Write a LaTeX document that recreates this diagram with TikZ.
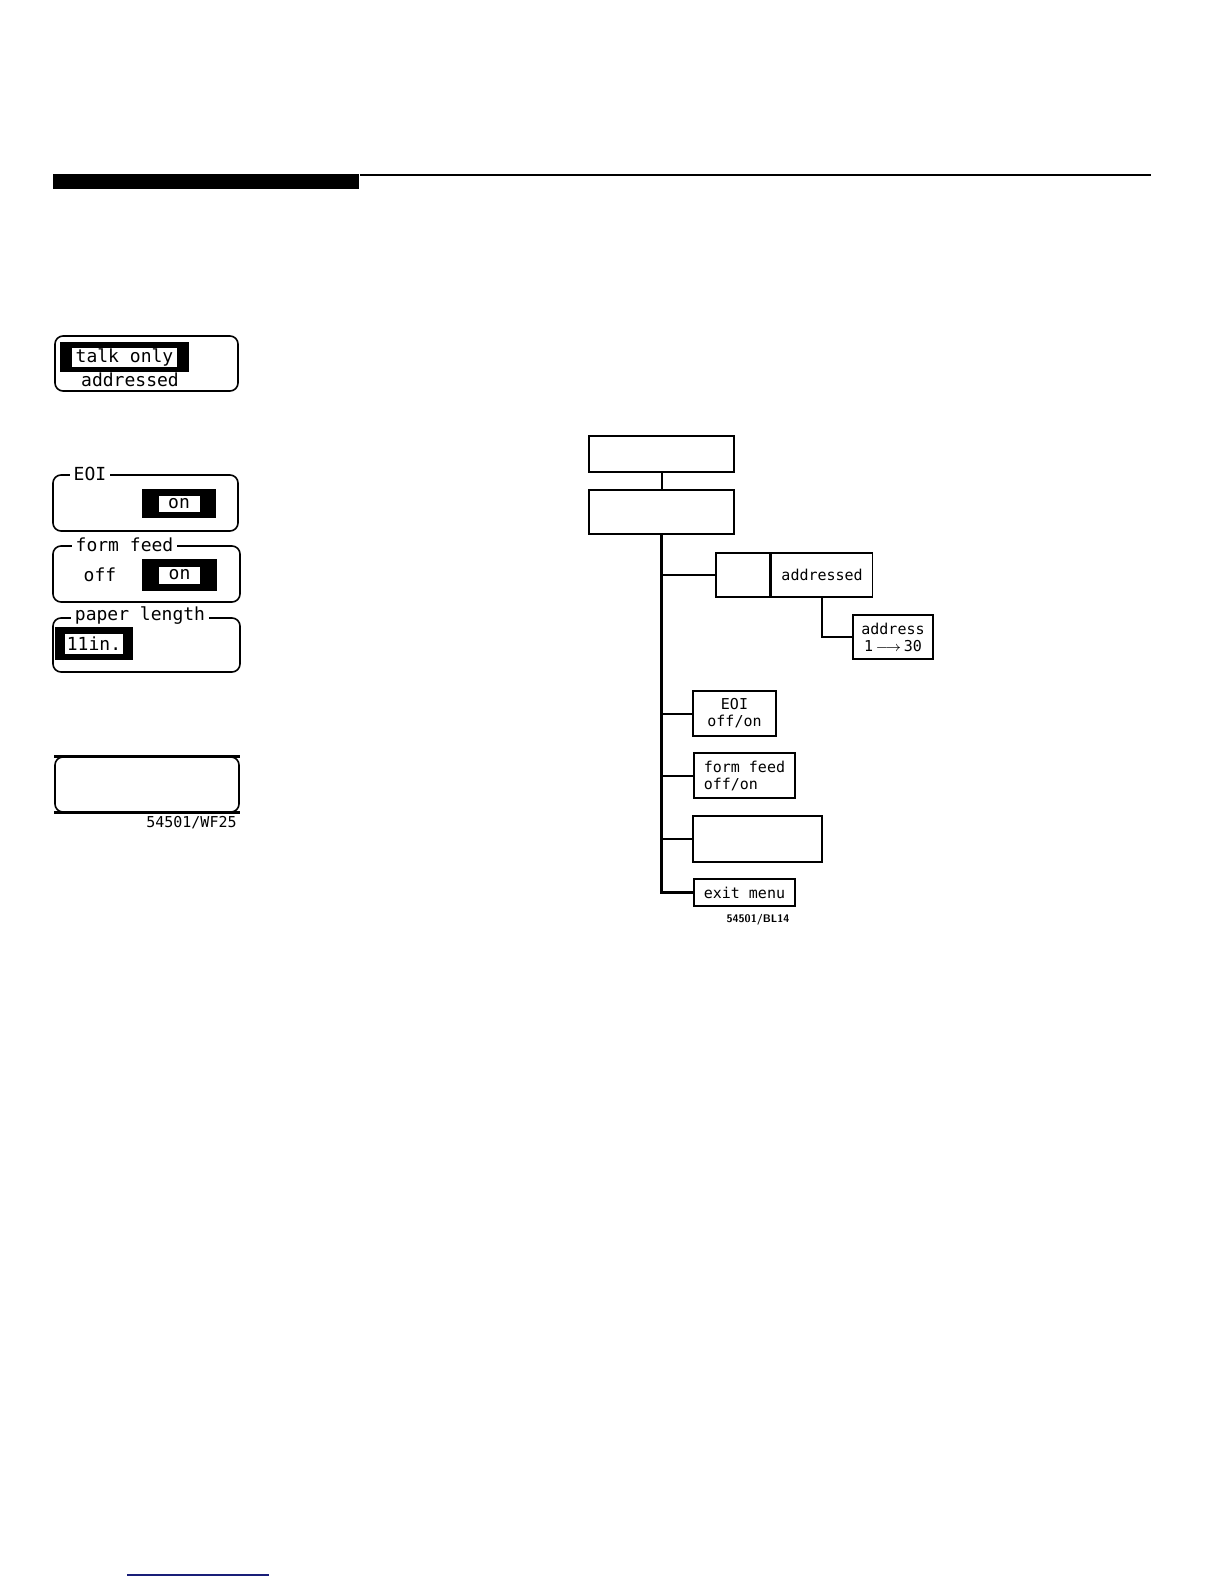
\documentclass[tikz,border=0pt]{standalone}
\usepackage{fontspec}
\setmonofont{DejaVu Sans Mono}
\usetikzlibrary{positioning}
\definecolor{footblue}{RGB}{25,30,120}
\tikzset{
  screen/.style={draw, rounded corners=4pt, line width=0.8pt, inner sep=0pt},
  hlbox/.style={fill=black, inner sep=0pt},
  hltext/.style={fill=white, inner sep=0pt, font=\ttfamily\fontsize{9}{10}\selectfont},
  scrlabel/.style={fill=white, inner sep=2pt, font=\ttfamily\fontsize{9}{10}\selectfont},
  scrtext/.style={inner sep=0pt, font=\ttfamily\fontsize{9}{10}\selectfont},
  menubox/.style={draw, line width=0.8pt, inner sep=0pt, align=center, font=\ttfamily\fontsize{7.5}{8.5}\selectfont},
  leftbox/.style={menubox, align=left, inner xsep=5pt, anchor=west},
  branch/.style={line width=1pt},
  trunk/.style={line width=1.1pt}
}

\begin{document}
\begin{tikzpicture}[x=0.5pt, y=-0.5pt]
  \useasboundingbox (0,0) rectangle (1224,1584);
  \fill[white] (0,0) rectangle (1224,1584);

  % heading rule
  \node[fill=black, inner sep=0pt, minimum width=153pt, minimum height=7.5pt, anchor=north west] (rulebar) at (53,174) {};
  \coordinate (ruleend) at (1151,175.2);
  \draw[line width=1.2pt] (rulebar.north east |- ruleend) -- (ruleend);

  % display screens
  \node[screen, minimum width=91.5pt, minimum height=27.5pt] (talkscr) at (146.5,363.5) {};
  \node[hlbox, minimum width=64.5pt, minimum height=15pt] (talkhl) at (124.5,357) {};
  \node[hltext, minimum width=52.5pt, minimum height=9.5pt] (talkon) at (talkhl.center) {talk only};
  \node[scrtext] (talkaddr) at (130,380) {addressed};

  \node[screen, minimum width=92.5pt, minimum height=28pt] (eoiscr) at (145.5,503) {};
  \node[scrlabel] (eoilbl) at (90,474) {EOI};
  \node[hlbox, minimum width=37pt, minimum height=14.5pt] (eoihl) at (179,503.5) {};
  \node[hltext, minimum width=20.5pt, minimum height=8pt] (eoion) at (eoihl.center) {on};

  \node[screen, minimum width=93.5pt, minimum height=28pt] (ffscr) at (146.5,574) {};
  \node[scrlabel] (fflbl) at (124.5,545) {form feed};
  \node[scrtext] (ffoff) at (100,575) {off};
  \node[hlbox, minimum width=37.5pt, minimum height=16pt] (ffhl) at (179.5,575) {};
  \node[hltext, minimum width=20.5pt, minimum height=8.5pt] (ffon) at (ffhl.center) {on};

  \node[screen, minimum width=93.5pt, minimum height=27pt] (paperscr) at (146.5,645) {};
  \node[scrlabel] (paperlbl) at (140,616) {paper length};
  \node[hlbox, minimum width=39pt, minimum height=16.5pt] (paperhl) at (94,643.5) {};
  \node[hltext, minimum width=29pt, minimum height=10pt] (paperin) at (paperhl.center) {11in.};

  \node[screen, minimum width=92pt, minimum height=27.5pt] (blankscr) at (147,784.5) {};
  \draw[line width=1.5pt] (blankscr.north west) -- (blankscr.north east);
  \draw[line width=1.5pt] (blankscr.south west) -- (blankscr.south east);
  \node[scrtext, font=\ttfamily\fontsize{7.5}{8.5}\selectfont, anchor=east] (wflbl) at (237,823) {54501/WF25};

  % menu tree
  \node[menubox, minimum width=72.5pt, minimum height=18pt] (topbox) at (661.5,454) {};
  \node[menubox, minimum width=72.5pt, minimum height=22pt] (mainbox) at (661.5,512) {};
  \node[menubox, minimum width=27pt, minimum height=22pt] (modebox) at (743,575) {};
  \node[menubox, minimum width=50.5pt, minimum height=22pt, right=0pt of modebox] (addrbox) {addressed};
  \node[menubox, minimum width=40pt, minimum height=22pt] (addrnum) at (893,637) {address\\1\,$\longrightarrow$\,30};
  \node[menubox, minimum width=41.5pt, minimum height=22.5pt] (eoibox) at (734.5,713.5) {EOI\\off/on};
  \node[leftbox, minimum height=22.5pt] (ffbox) at (693,775.5) {form feed\\off/on};
  \node[menubox, minimum width=64.5pt, minimum height=23pt] (blankbox) at (757.5,839) {};
  \node[leftbox, minimum height=13.5pt] (exitbox) at (693,892.5) {exit menu};
  \node[inner sep=0pt, font=\sffamily\bfseries\fontsize{5.5}{6}\selectfont] (bllbl) at (758,920) {54501/BL14};

  \draw[branch] (topbox) -- (mainbox);
  \draw[trunk] (mainbox.south) |- (exitbox.west);
  \draw[branch] (mainbox.south |- modebox.west) -- (modebox.west);
  \draw[branch] (mainbox.south |- eoibox.west) -- (eoibox.west);
  \draw[branch] (mainbox.south |- ffbox.west) -- (ffbox.west);
  \draw[branch] (mainbox.south |- blankbox.west) -- (blankbox.west);
  \draw[branch] (addrbox.south) |- (addrnum.west);

  % footer line
  \draw[footblue, line width=0.8pt] (127,1575) -- (269,1575);
\end{tikzpicture}
\end{document}
